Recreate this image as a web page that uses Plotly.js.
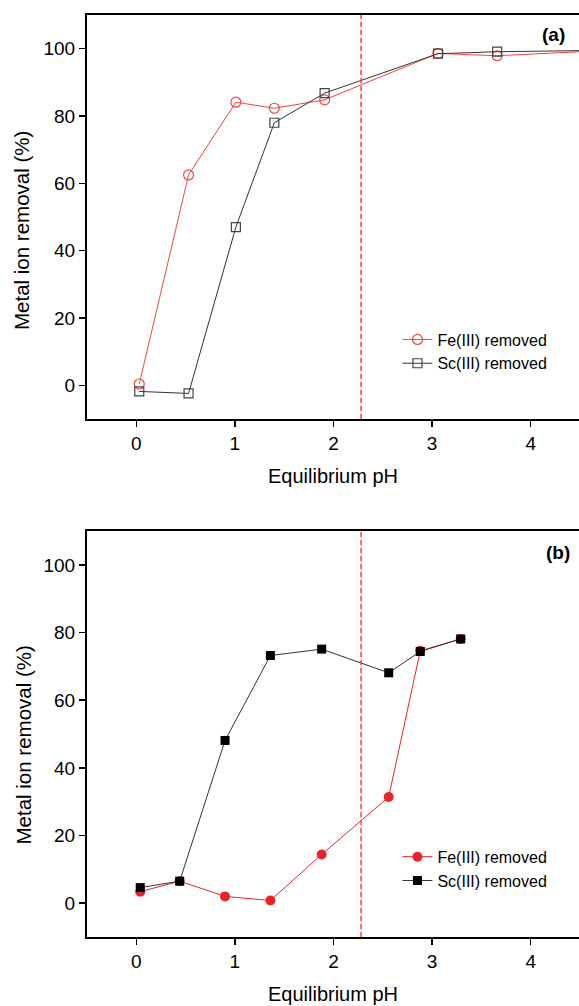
<!DOCTYPE html>
<html><head><meta charset="utf-8">
<script src="https://cdn.plot.ly/plotly-3.0.1.min.js"></script>
<style>html,body{margin:0;padding:0;background:#fff}</style>
</head><body>
<div id="chart" style="width:579px;height:1006px"></div>
<script>
// Panel (a)
const phFeA = [0.03, 0.53, 1.01, 1.40, 1.91, 3.06, 3.66, 5.0];
const feA   = [0.4, 62.5, 84.1, 82.3, 84.8, 98.6, 97.9, 99.8];
const phScA = [0.03, 0.53, 1.01, 1.40, 1.91, 3.06, 3.66, 5.0];
const scA   = [-1.8, -2.4, 47.0, 78.0, 86.8, 98.5, 99.1, 99.6];
// Panel (b)
const phFeB = [0.04, 0.44, 0.90, 1.36, 1.88, 2.56, 2.88, 3.29];
const feB   = [3.4, 6.5, 2.0, 0.8, 14.4, 31.4, 74.6, 78.1];
const phScB = [0.04, 0.44, 0.90, 1.36, 1.88, 2.56, 2.88, 3.29];
const scB   = [4.6, 6.5, 48.1, 73.2, 75.1, 68.1, 74.4, 78.1];
const pHLine = 2.28;
const xTicks = [0, 1, 2, 3, 4];
const yTicks = [0, 20, 40, 60, 80, 100];
const seriesNames = ['Fe(III) removed', 'Sc(III) removed'];
const panelLabels = ['(a)', '(b)'];
const xTitle = 'Equilibrium pH';
const yTitle = 'Metal ion removal (%)';

const FONT = 'Liberation Sans, Arial, sans-serif';
const redA = '#f2453d', redB = '#e8232a', dark = '#333333';

const traces = [
  {x: phFeA, y: feA, name: seriesNames[0], xaxis: 'x', yaxis: 'y', legend: 'legend',
   mode: 'lines+markers', line: {color: redA, width: 1},
   marker: {symbol: 'circle-open', size: 10, color: redA, line: {width: 1.2, color: redA}}},
  {x: phScA, y: scA, name: seriesNames[1], xaxis: 'x', yaxis: 'y', legend: 'legend',
   mode: 'lines+markers', line: {color: dark, width: 1},
   marker: {symbol: 'square-open', size: 9, color: '#444', line: {width: 1.2, color: '#444'}}},
  {x: phFeB, y: feB, name: seriesNames[0], xaxis: 'x2', yaxis: 'y2', legend: 'legend2',
   mode: 'lines+markers', line: {color: redB, width: 1},
   marker: {symbol: 'circle', size: 10, color: redB}},
  {x: phScB, y: scB, name: seriesNames[1], xaxis: 'x2', yaxis: 'y2', legend: 'legend2',
   mode: 'lines+markers', line: {color: dark, width: 1},
   marker: {symbol: 'square', size: 9, color: '#000'}}
];

function xax(anchor) {
  return {anchor: anchor, range: [-0.5, 4.49], tickvals: xTicks, ticktext: xTicks.map(String),
    showgrid: false, zeroline: false, showline: true, linecolor: '#000', linewidth: 2, mirror: true,
    ticks: 'outside', ticklen: 6, tickwidth: 1.5, tickcolor: '#000',
    tickfont: {family: FONT, size: 19, color: '#000'},
    title: {text: xTitle, font: {family: FONT, size: 20, color: '#000'}, standoff: 16}};
}
function yax(anchor, dom) {
  return {anchor: anchor, domain: dom, range: [-10, 110], tickvals: yTicks, ticktext: yTicks.map(String),
    showgrid: false, zeroline: false, showline: true, linecolor: '#000', linewidth: 2, mirror: false,
    ticks: 'outside', ticklen: 6, tickwidth: 1.5, tickcolor: '#000',
    tickfont: {family: FONT, size: 19, color: '#000'}};
}
function legendAt(y) {
  return {x: 0.631, y: y, xanchor: 'left', yanchor: 'middle', bgcolor: 'rgba(0,0,0,0)',
    font: {family: FONT, size: 16, color: '#000'}, itemwidth: 30, tracegroupgap: 0};
}
function yTitleAnn(x, y) {
  return {text: yTitle, xref: 'paper', yref: 'paper', x: x, y: y, xanchor: 'center', yanchor: 'middle',
    textangle: -90, showarrow: false, font: {family: FONT, size: 20.5, color: '#000'}};
}

const layout = {
  width: 579, height: 1006,
  margin: {l: 87, r: 0, t: 15, b: 69},
  paper_bgcolor: '#fff', plot_bgcolor: '#fff',
  font: {family: FONT, color: '#000'},
  xaxis: xax('y'),
  yaxis: yax('x', [0.5618, 1]),
  xaxis2: xax('y2'),
  yaxis2: yax('x2', [0, 0.4403]),
  legend: legendAt(0.635),
  legend2: legendAt(0.074),
  showlegend: true,
  shapes: [
    {type: 'line', xref: 'x', yref: 'y domain', x0: pHLine, x1: pHLine, y0: 0, y1: 1,
     line: {color: '#ff3a3a', width: 1.5, dash: '5px,3px'}},
    {type: 'line', xref: 'x2', yref: 'y2 domain', x0: pHLine, x1: pHLine, y0: 0, y1: 1,
     line: {color: '#ff3a3a', width: 1.5, dash: '5px,3px'}}
  ],
  annotations: [
    {text: '<b>' + panelLabels[0] + '</b>', xref: 'x domain', yref: 'y domain', x: 0.949, y: 0.952,
     xanchor: 'center', yanchor: 'middle', showarrow: false, font: {family: FONT, size: 19, color: '#000'}},
    {text: '<b>' + panelLabels[1] + '</b>', xref: 'x2 domain', yref: 'y2 domain', x: 0.958, y: 0.946,
     xanchor: 'center', yanchor: 'middle', showarrow: false, font: {family: FONT, size: 19, color: '#000'}},
    yTitleAnn(-0.1341, 0.7657),
    yTitleAnn(-0.130, 0.2077)
  ]
};

Plotly.newPlot('chart', traces, layout, {displayModeBar: false, staticPlot: true});
</script>
</body></html>
